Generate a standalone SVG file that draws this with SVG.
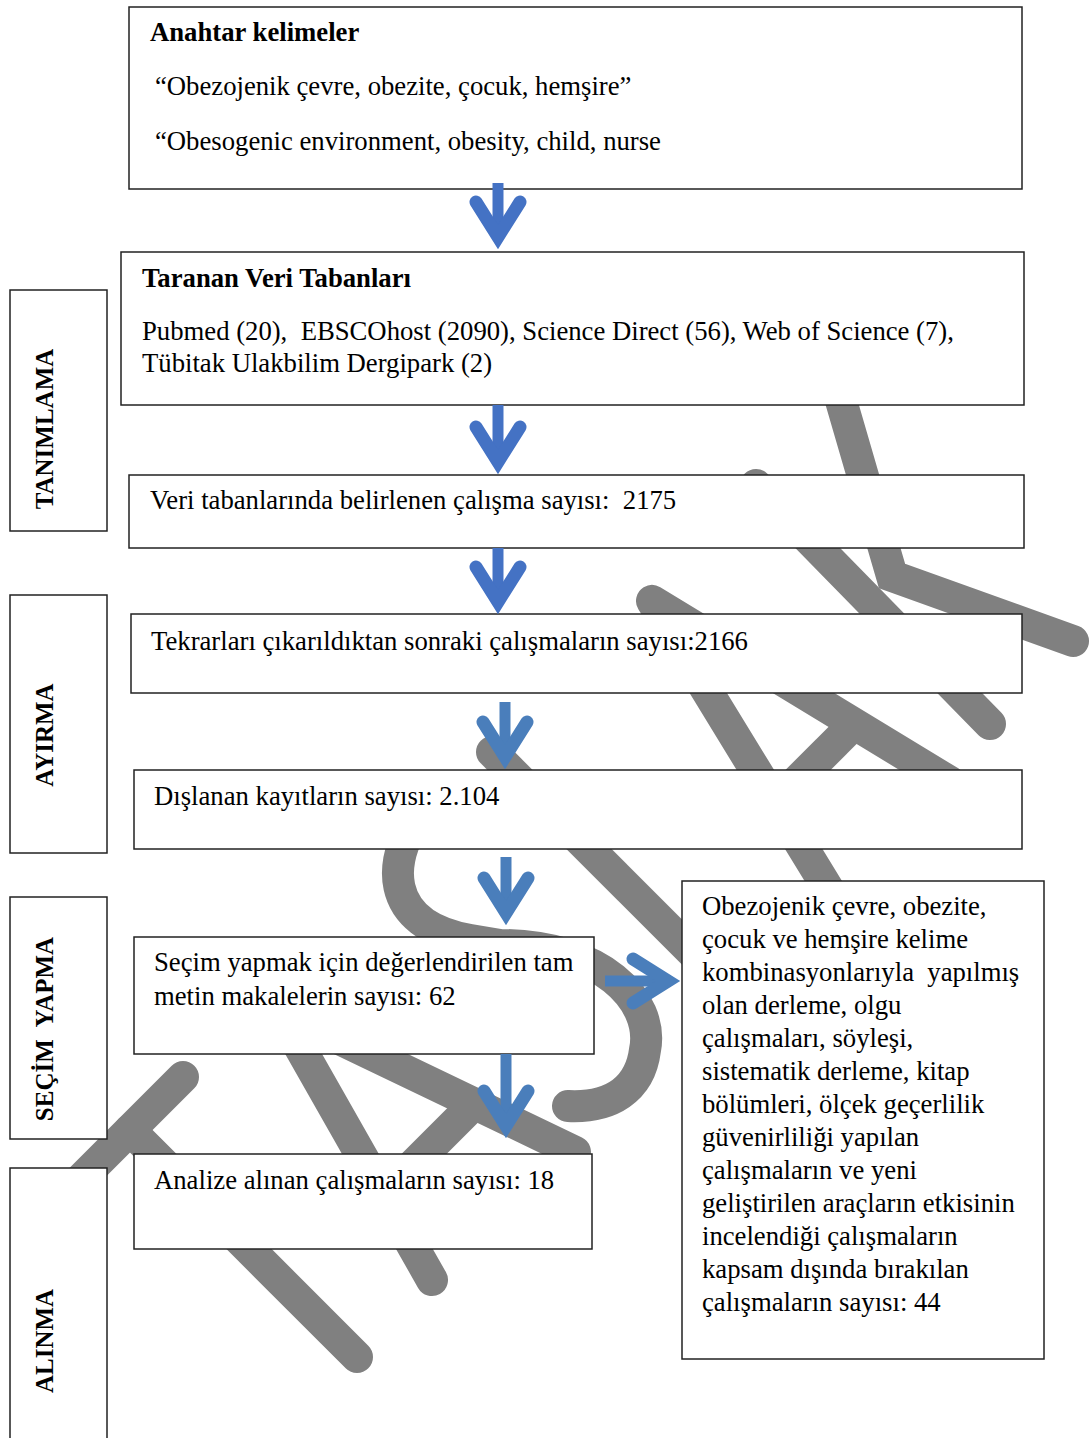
<svg xmlns="http://www.w3.org/2000/svg" width="1090" height="1438" viewBox="0 0 1090 1438">
<style>
.bg{fill:#fff}
.wm{fill:none;stroke:#808080;stroke-width:32;stroke-linecap:round;stroke-linejoin:round}
.box{fill:#fff;stroke:#222;stroke-width:1.5}
.t{font-family:"Liberation Serif","Times New Roman",serif;font-size:26.7px;fill:#000}
.b{font-weight:bold}
.lbl{font-family:"Liberation Serif","Times New Roman",serif;font-size:25px;font-weight:bold;fill:#000;text-anchor:middle}
.sh1{stroke:#4472C4;stroke-width:11;fill:none}
.sh2{stroke:#4A7EBB;stroke-width:11;fill:none}
</style>
<defs>
<marker id="h1" markerUnits="userSpaceOnUse" orient="auto" viewBox="-50 -35 60 70" markerWidth="60" markerHeight="70" refX="0" refY="0" overflow="visible">
<path d="M-35,-22 L0,0 L-35,22" fill="none" stroke="#4472C4" stroke-width="13" stroke-linecap="round" stroke-linejoin="miter" stroke-miterlimit="10"/>
</marker>
<marker id="h2" markerUnits="userSpaceOnUse" orient="auto" viewBox="-50 -35 60 70" markerWidth="60" markerHeight="70" refX="0" refY="0" overflow="visible">
<path d="M-35,-22 L0,0 L-35,22" fill="none" stroke="#4A7EBB" stroke-width="13" stroke-linecap="round" stroke-linejoin="miter" stroke-miterlimit="10"/>
</marker>
</defs>
<rect class="bg" x="0" y="0" width="1090" height="1438"/>

<g id="watermark" class="wm">
<path d="M756,485 L990,724"/>
<path d="M835,380 L892,576 L1073,641" stroke-linejoin="miter"/>
<path d="M838,905 L652,601 L950,782"/>
<path d="M775,803 L846,732"/>
<path d="M492,752 L720,980"/>
<path d="M430,800 C380,860 385,925 470,940 L500,945 C600,945 655,1000 645,1050 C640,1090 610,1108 568,1106"/>
<path d="M290,1030 L432,1280"/>
<path d="M300,1020 L575,1152"/>
<path d="M410,1168 L470,1108"/>
<path d="M183,1077 L30,1230"/>
<path d="M130,1130 L357,1357"/>
</g>

<g id="lbl-tanimlama">
<rect class="box" x="10" y="290" width="97" height="241"/>
<text class="lbl" transform="translate(53,429) rotate(-90)">TANIMLAMA</text>
</g>
<g id="lbl-ayirma">
<rect class="box" x="10" y="595" width="97" height="258"/>
<text class="lbl" transform="translate(53,735) rotate(-90)">AYIRMA</text>
</g>
<g id="lbl-secim">
<rect class="box" x="10" y="897" width="97" height="242"/>
<text class="lbl" xml:space="preserve" transform="translate(53,1029) rotate(-90)">SEÇİM  YAPMA</text>
</g>
<g id="lbl-alinma">
<rect class="box" x="10" y="1168" width="97" height="290"/>
<text class="lbl" transform="translate(53,1341) rotate(-90)">ALINMA</text>
</g>

<g id="n-anahtar">
<rect class="box" x="129" y="7" width="893" height="182"/>
<text class="t b" x="150" y="41">Anahtar kelimeler</text>
<text class="t" x="155" y="95">“Obezojenik çevre, obezite, çocuk, hemşire”</text>
<text class="t" x="155" y="150">“Obesogenic environment, obesity, child, nurse</text>
</g>
<g id="n-taranan">
<rect class="box" x="121" y="252" width="903" height="153"/>
<text class="t b" x="142" y="287">Taranan Veri Tabanları</text>
<text class="t" xml:space="preserve" x="142" y="340">Pubmed (20),  EBSCOhost (2090), Science Direct (56), Web of Science (7),</text>
<text class="t" x="142" y="372">Tübitak Ulakbilim Dergipark (2)</text>
</g>
<g id="n-belirlenen">
<rect class="box" x="129" y="475" width="895" height="73"/>
<text class="t" xml:space="preserve" x="150" y="509">Veri tabanlarında belirlenen çalışma sayısı:  2175</text>
</g>
<g id="n-tekrar">
<rect class="box" x="131" y="614" width="891" height="79"/>
<text class="t" x="151" y="650">Tekrarları çıkarıldıktan sonraki çalışmaların sayısı:2166</text>
</g>
<g id="n-dislanan">
<rect class="box" x="134" y="770" width="888" height="79"/>
<text class="t" x="154" y="805">Dışlanan kayıtların sayısı: 2.104</text>
</g>
<g id="n-secim">
<rect class="box" x="134" y="937" width="460" height="117"/>
<text class="t" x="154" y="971">Seçim yapmak için değerlendirilen tam</text>
<text class="t" x="154" y="1005">metin makalelerin sayısı: 62</text>
</g>
<g id="n-analiz">
<rect class="box" x="134" y="1154" width="458" height="95"/>
<text class="t" x="154" y="1189">Analize alınan çalışmaların sayısı: 18</text>
</g>
<g id="n-kapsam">
<rect class="box" x="682" y="881" width="362" height="478"/>
<text class="t" x="702" y="915">Obezojenik çevre, obezite,</text>
<text class="t" x="702" y="948">çocuk ve hemşire kelime</text>
<text class="t" xml:space="preserve" x="702" y="981">kombinasyonlarıyla  yapılmış</text>
<text class="t" x="702" y="1014">olan derleme, olgu</text>
<text class="t" x="702" y="1047">çalışmaları, söyleşi,</text>
<text class="t" x="702" y="1080">sistematik derleme, kitap</text>
<text class="t" x="702" y="1113">bölümleri, ölçek geçerlilik</text>
<text class="t" x="702" y="1146">güvenirliliği yapılan</text>
<text class="t" x="702" y="1179">çalışmaların ve yeni</text>
<text class="t" x="702" y="1212">geliştirilen araçların etkisinin</text>
<text class="t" x="702" y="1245">incelendiği çalışmaların</text>
<text class="t" x="702" y="1278">kapsam dışında bırakılan</text>
<text class="t" x="702" y="1311">çalışmaların sayısı: 44</text>
</g>

<g id="connectors">
<line class="sh1" x1="498" y1="183" x2="498" y2="237" marker-end="url(#h1)"/>
<line class="sh1" x1="498" y1="405" x2="498" y2="462" marker-end="url(#h1)"/>
<line class="sh1" x1="498" y1="548" x2="498" y2="602" marker-end="url(#h1)"/>
<line class="sh2" x1="505" y1="702" x2="505" y2="757" marker-end="url(#h2)"/>
<line class="sh2" x1="506" y1="857" x2="506" y2="913" marker-end="url(#h2)"/>
<line class="sh2" x1="506" y1="1054" x2="506" y2="1126" marker-end="url(#h2)"/>
<line class="sh2" x1="605" y1="981" x2="668" y2="981" marker-end="url(#h2)"/>
</g>
</svg>
